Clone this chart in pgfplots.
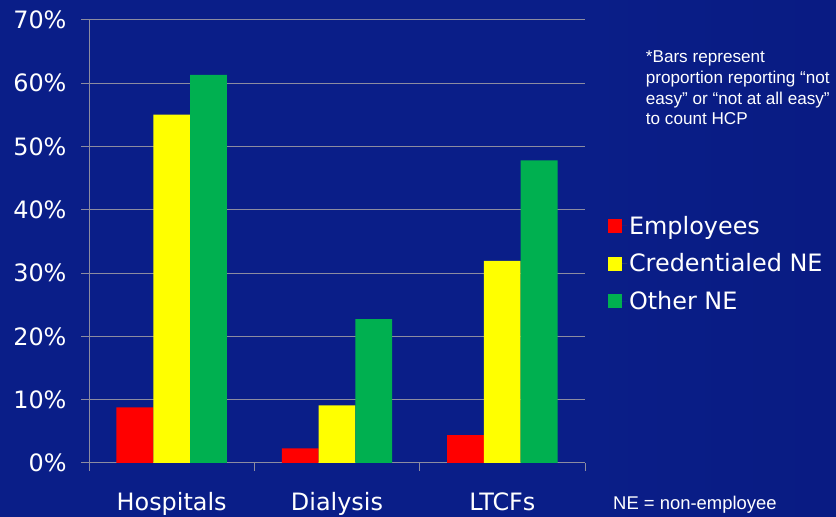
\documentclass[border=0pt]{standalone}
\usepackage{pgfplots}
\pgfplotsset{compat=1.18}
\usepackage{fontspec}
\setmainfont{DejaVu Sans}
\newfontfamily\arialf{Liberation Sans}
\definecolor{bgA}{RGB}{30,62,162}
\definecolor{bgB}{RGB}{10,30,136}
\definecolor{bgC}{RGB}{6,22,122}
\definecolor{gridc}{RGB}{140,140,160}
\definecolor{cred}{RGB}{255,0,0}
\definecolor{cyel}{RGB}{255,255,0}
\definecolor{cgrn}{RGB}{0,176,80}
\pgfdeclarehorizontalshading{bgshade}{100bp}{color(0bp)=(bgA); color(12bp)=(bgB); color(60bp)=(bgB); color(100bp)=(bgC)}
\begin{document}
\begin{tikzpicture}[x=1bp,y=1bp]
\useasboundingbox (0,0) rectangle (836,517);
\shade[shading=bgshade] (0,0) rectangle (836,517);
\begin{axis}[
  at={(89bp,54bp)}, anchor=south west,
  scale only axis, width=496bp, height=443.3bp,
  xmin=-0.5, xmax=2.5, ymin=0, ymax=70,
  axis x line*=bottom, axis y line*=left,
  axis line style={gridc, line width=1bp, -},
  ytick={0,10,...,70},
  yticklabel={\pgfmathprintnumber{\tick}\%},
  /pgf/number format/assume math mode=true,
  ymajorgrids, grid style={gridc, line width=1bp},
  tick align=outside,
  major tick length=8bp,
  tick style={gridc, line width=1bp},
  xtick={-0.5,0.5,1.5,2.5},
  xticklabels={},
  extra x ticks={0,1,2},
  extra x tick labels={Hospitals,Dialysis,LTCFs},
  extra x tick style={grid=none, major tick length=0pt},
  ticklabel style={text=white, font=\fontsize{24}{28}\selectfont},
  yticklabel style={xshift=-11bp},
  xticklabel style={yshift=-26bp},
  ybar=0pt, bar width=36.8bp,
  legend style={at={(1.04,0.45)}, anchor=west, draw=none, fill=none,
    text=white, font=\fontsize{24}{28}\selectfont, legend cell align=left,
    row sep=14bp},
  legend image code/.code={\fill[#1] (0bp,-7bp) rectangle (14bp,7bp); \path (0bp,0bp) -- (19bp,0bp);},
]
\addplot[fill=cred, draw=none] coordinates {(0,8.8) (1,2.3) (2,4.4)};
\addplot[fill=cyel, draw=none] coordinates {(0,55.0) (1,9.1) (2,31.9)};
\addplot[fill=cgrn, draw=none] coordinates {(0,61.3) (1,22.7) (2,47.8)};
\legend{Employees, Credentialed NE, Other NE}
\end{axis}
\node[anchor=north west, align=left, text=white, inner sep=0pt,
  font=\arialf\fontsize{17.2}{20.7}\selectfont] at (645.7,466)
  {*Bars represent\\proportion reporting “not\\easy” or “not at all easy”\\to count HCP};
\node[anchor=base west, text=white, inner sep=0pt,
  font=\arialf\fontsize{18.5}{22}\selectfont] at (613,7) {NE = non-employee};
\end{tikzpicture}
\end{document}
